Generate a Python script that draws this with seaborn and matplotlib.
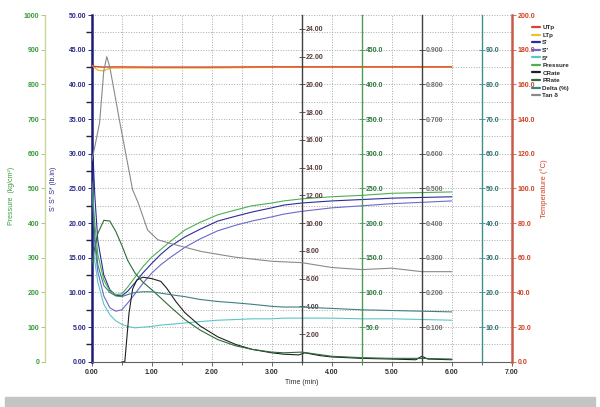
import numpy as np
import matplotlib
matplotlib.use("Agg")
import matplotlib.pyplot as plt
from matplotlib.lines import Line2D
from matplotlib.patches import Rectangle
from matplotlib.ticker import MultipleLocator, FixedLocator, FixedFormatter
import seaborn as sns

sns.set_theme(style="white")
plt.rcParams['font.family'] = ['Liberation Sans', 'DejaVu Sans']
plt.rcParams['font.weight'] = 'bold'

# platen temperatures (deg C)
t_temp = [0.0, 0.1, 0.2, 0.3, 0.5, 1.0, 2.0, 2.7, 3.0, 4.0, 5.0, 6.0]
utp = [170.5, 170.2, 170.0, 170.1, 170.1, 170.0, 170.0, 170.1, 170.1, 170.1, 170.1, 170.1]
ltp = [171.0, 168.2, 167.8, 169.4, 169.5, 169.5, 169.5, 169.8, 170.0, 170.0, 170.0, 170.0]

# torque and related curves
t_cure = [0.0, 0.05, 0.1, 0.2, 0.3, 0.4, 0.5, 0.6, 0.72, 0.85, 1.0, 1.15, 1.3,
          1.55, 1.8, 2.1, 2.4, 2.67, 3.0, 3.2, 3.5, 4.0, 4.5, 5.0, 5.5, 6.0]
s_prime = [34.0, 24.0, 17.5, 12.5, 10.4, 9.6, 9.5, 10.2, 11.4, 12.8, 14.2, 15.5, 16.6,
           18.0, 19.1, 20.3, 21.0, 21.6, 22.2, 22.6, 22.9, 23.2, 23.4, 23.6, 23.7, 23.8]
s_dprime = [22.0, 17.0, 13.0, 9.5, 7.8, 7.3, 7.5, 8.5, 9.8, 11.3, 12.8, 14.0, 15.0,
            16.5, 17.7, 18.9, 19.7, 20.3, 20.9, 21.3, 21.7, 22.2, 22.5, 22.8, 23.0, 23.2]
s_star = [18.5, 14.5, 11.5, 8.3, 6.8, 5.9, 5.4, 5.1, 4.9, 5.0, 5.1, 5.3, 5.4,
          5.6, 5.8, 6.0, 6.1, 6.2, 6.2, 6.3, 6.3, 6.3, 6.2, 6.2, 6.1, 6.0]
pressure = [520, 400, 310, 236, 204, 194, 196, 216, 244, 274, 302, 324, 346,
            380, 402, 424, 438, 450, 458, 464, 470, 476, 480, 486, 488, 490]
delta = [50.0, 36.0, 28.0, 22.0, 20.0, 19.0, 18.8, 19.4, 20.0, 20.2, 20.2, 19.8, 19.4,
         18.8, 18.0, 17.4, 17.0, 16.6, 16.0, 15.8, 15.8, 15.4, 15.0, 14.8, 14.6, 14.4]
prate = [140, 165, 185, 204, 203, 188, 168, 146, 128, 115, 104, 92, 80,
         61, 46, 32, 23, 18, 14, 13, 14, 8, 6, 5, 5, 4]

t_tan = [0.0, 0.05, 0.13, 0.2, 0.25, 0.3, 0.47, 0.68, 0.77, 0.93, 1.1, 1.38,
         1.83, 2.38, 3.0, 3.5, 4.0, 4.5, 5.0, 5.5, 6.0]
tan_delta = [0.58, 0.62, 0.69, 0.84, 0.88, 0.85, 0.688, 0.496, 0.46, 0.38, 0.352, 0.338,
             0.318, 0.302, 0.29, 0.286, 0.272, 0.266, 0.27, 0.26, 0.26]

t_crate = [0.5, 0.55, 0.58, 0.62, 0.68, 0.75, 0.85, 1.0, 1.15, 1.25, 1.4, 1.55, 1.8, 2.1,
           2.4, 2.67, 3.0, 3.2, 3.45, 3.55, 3.8, 4.0, 4.5, 5.0, 5.4, 5.5, 5.6, 6.0]
crate = [0.0, 0.0, 1.5, 3.5, 5.25, 5.9, 6.1, 6.0, 5.8, 5.3, 4.35, 3.55, 2.6, 1.8,
         1.25, 0.9, 0.65, 0.55, 0.5, 0.65, 0.45, 0.35, 0.25, 0.2, 0.15, 0.4, 0.2, 0.15]

# axis ticks
x_ticks = [0, 1, 2, 3, 4, 5, 6, 7]
x_labels = ['0.00', '1.00', '2.00', '3.00', '4.00', '5.00', '6.00', '7.00']
s_ticks = [0, 5, 10, 15, 20, 25, 30, 35, 40, 45, 50]
p_ticks = [0, 100, 200, 300, 400, 500, 600, 700, 800, 900, 1000]
temp_ticks = [0, 20, 40, 60, 80, 100, 120, 140, 160, 180, 200]
crate_ticks = [2, 4, 6, 8, 10, 12, 14, 16, 18, 20, 22, 24]
prate_ticks = [50, 100, 150, 200, 250, 300, 350, 400, 450]
tan_ticks = [0.1, 0.2, 0.3, 0.4, 0.5, 0.6, 0.7, 0.8, 0.9]
delta_ticks = [10, 20, 30, 40, 50, 60, 70, 80, 90]

labels = ["UTp", "LTp", "S'", "S''", "S*", "Pressure", "CRate", "PRate", "Delta (%)", "Tan δ"]
colors = ['#d8452c', '#f0c030', '#2c2c9c', '#6a6acc', '#5cc6c6', '#4cb050',
          '#202020', '#2e6b3a', '#3f7f7f', '#8a8a8a']

fs = 5
fig = plt.figure(figsize=(6, 4.07), dpi=100)
ax = fig.add_axes([0.153, 0.111, 0.7, 0.852])
ax.set_xlim(0, 7)
ax.set_ylim(0, 50)
ax.xaxis.set_major_locator(FixedLocator(x_ticks))
ax.xaxis.set_major_formatter(FixedFormatter(x_labels))
ax.xaxis.set_minor_locator(MultipleLocator(0.5))
ax.yaxis.set_major_locator(FixedLocator(s_ticks))
ax.yaxis.set_major_formatter(FixedFormatter(['%.2f' % v for v in s_ticks]))
ax.yaxis.set_minor_locator(MultipleLocator(2.5))
ax.grid(which='both', color='#a8a8a8', ls=':', lw=0.7)
ax.tick_params(axis='x', which='both', bottom=True, direction='out', length=3, width=0.6,
               pad=2, labelsize=fs, labelcolor='#303030', color='#505050')
ax.tick_params(axis='x', which='minor', length=2)
ax.tick_params(axis='y', which='major', left=True, direction='out', length=3, width=0.7,
               pad=1, labelsize=fs, labelcolor='#2a2a8a', color='#2a2a8a')
for s in ['top', 'right']:
    ax.spines[s].set_visible(False)
ax.spines['left'].set_color('#1c1c7a')
ax.spines['left'].set_linewidth(1.8)
ax.spines['bottom'].set_color('#606060')
ax.spines['bottom'].set_linewidth(0.8)
ax.set_xlabel('Time (min)', fontsize=fs, color='#303030', labelpad=2)
ax.set_ylabel("S' S'' S* (lb.in)", fontsize=fs, color='#2a2a8a')
ax.yaxis.set_label_coords(-0.083, 0.5)

# pressure axis on the far left
ax_p = ax.twinx()
ax_p.set_ylim(0, 1000)
for s in ax_p.spines.values():
    s.set_visible(False)
ax_p.spines['left'].set_visible(True)
ax_p.spines['left'].set_position(('axes', -0.112))
ax_p.spines['left'].set_color('#c8d890')
ax_p.spines['left'].set_linewidth(1.0)
ax_p.yaxis.set_ticks_position('left')
ax_p.yaxis.set_label_position('left')
ax_p.yaxis.set_major_locator(FixedLocator(p_ticks))
ax_p.tick_params(axis='y', direction='out', length=3, width=0.6, pad=1, labelsize=fs,
                 labelcolor='#3a9a3a', color='#a0b870')
ax_p.set_ylabel('Pressure  (kg/cm²)', fontsize=fs, color='#3a9a3a')
ax_p.yaxis.set_label_coords(-0.183, 0.48)

# temperature axis on the right
ax_t = ax.twinx()
ax_t.set_ylim(0, 200)
for s in ax_t.spines.values():
    s.set_visible(False)
ax_t.spines['right'].set_visible(True)
ax_t.spines['right'].set_color('#c85a4a')
ax_t.spines['right'].set_linewidth(1.8)
ax_t.yaxis.set_major_locator(FixedLocator(temp_ticks))
ax_t.yaxis.set_major_formatter(FixedFormatter(['%.1f' % v for v in temp_ticks]))
ax_t.tick_params(axis='y', direction='out', length=3, width=0.6, pad=1, labelsize=fs,
                 labelcolor='#d04020', color='#c85a4a')
ax_t.set_ylabel('Temperature (°C)', fontsize=fs + 0.5, color='#d04020')
ax_t.yaxis.set_label_coords(1.067, 0.5)


def inner_axis(pos, top, ticks, fmt, spine_col, lab_col):
    a = ax.twinx()
    a.set_ylim(0, top)
    for s in a.spines.values():
        s.set_visible(False)
    a.spines['right'].set_visible(True)
    a.spines['right'].set_position(('data', pos))
    a.spines['right'].set_color(spine_col)
    a.spines['right'].set_linewidth(1.0)
    a.yaxis.set_major_locator(FixedLocator(ticks))
    a.yaxis.set_major_formatter(FixedFormatter([fmt % v for v in ticks]))
    a.tick_params(axis='y', direction='inout', length=4, width=0.6, pad=1, labelsize=fs,
                  labelcolor=lab_col, color=spine_col)
    return a


ax_cr = inner_axis(3.5, 25, crate_ticks, '%.2f', '#404040', '#5a3a3a')
ax_pr = inner_axis(4.5, 500, prate_ticks, '%.1f', '#4a9a5a', '#2e7a3e')
ax_tan = inner_axis(5.5, 1.0, tan_ticks, '%.3f', '#404040', '#707070')
ax_d = inner_axis(6.5, 100, delta_ticks, '%.1f', '#3f8f8f', '#2f7070')

lw = 0.8
sns.lineplot(x=t_tan, y=tan_delta, ax=ax_tan, color=colors[9], lw=lw, legend=False)
sns.lineplot(x=t_cure, y=delta, ax=ax_d, color=colors[8], lw=lw, legend=False)
sns.lineplot(x=t_cure, y=prate, ax=ax_pr, color=colors[7], lw=lw, legend=False)
sns.lineplot(x=t_crate, y=crate, ax=ax_cr, color=colors[6], lw=lw, legend=False)
sns.lineplot(x=t_cure, y=s_star, ax=ax, color=colors[4], lw=lw, legend=False)
sns.lineplot(x=t_cure, y=s_dprime, ax=ax, color=colors[3], lw=lw, legend=False)
sns.lineplot(x=t_cure, y=s_prime, ax=ax, color=colors[2], lw=lw, legend=False)
sns.lineplot(x=t_cure, y=pressure, ax=ax_p, color=colors[5], lw=lw, legend=False)
sns.lineplot(x=t_temp, y=ltp, ax=ax_t, color=colors[1], lw=1.0, legend=False)
sns.lineplot(x=t_temp, y=utp, ax=ax_t, color=colors[0], lw=1.0, legend=False)

handles = [Line2D([], [], color=c, lw=1.6) for c in colors]
fig.legend(handles, labels, loc='upper left', bbox_to_anchor=(0.882, 0.945), frameon=False,
           fontsize=4.5, handlelength=1.3, handletextpad=0.4, labelspacing=0.35,
           borderaxespad=0)

fig.add_artist(Rectangle((0.008, 0.0), 0.984, 0.025, transform=fig.transFigure,
                         color='#c4c4c4', zorder=0))

fig.savefig('out.png', dpi=100)
